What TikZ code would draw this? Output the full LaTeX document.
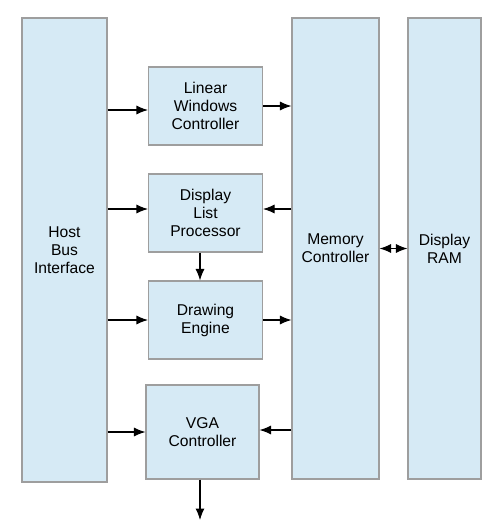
\documentclass[tikz,border=0pt]{standalone}
\usepackage{fontspec}
\setmainfont{Liberation Sans}
\usetikzlibrary{arrows.meta}
\definecolor{blkfill}{HTML}{D6EAF5}
\definecolor{blkline}{HTML}{9E9E9E}
\begin{document}
\begin{tikzpicture}[every node/.style={font=\fontsize{8.9}{10.2}\selectfont},
  blk/.style={draw=blkline,fill=blkfill,line width=0.6pt,align=center,inner sep=0pt},
  >={Latex[length=2.3mm,width=1.8mm]}]
\useasboundingbox (0,0) rectangle (9.78,-10.64);
\node[blk,minimum width=1.70cm,minimum height=9.28cm] (hbi) at (1.29,-5.00) {Host\\Bus\\Interface};
\node[blk,minimum width=2.28cm,minimum height=1.56cm] (lwc) at (4.11,-2.12) {Linear\\Windows\\Controller};
\node[blk,minimum width=2.28cm,minimum height=1.56cm] (dlp) at (4.11,-4.26) {Display\\List\\Processor};
\node[blk,minimum width=2.28cm,minimum height=1.56cm] (de) at (4.11,-6.40) {Drawing\\Engine};
\node[blk,minimum width=2.26cm,minimum height=1.88cm] (vga) at (4.05,-8.64) {VGA\\Controller};
\node[blk,minimum width=1.74cm,minimum height=9.22cm] (mc) at (6.71,-4.97) {Memory\\Controller};
\node[blk,minimum width=1.46cm,minimum height=9.22cm] (ram) at (8.89,-4.97) {Display\\RAM};
\coordinate (out) at (4.00,-10.40);
\draw[->,line width=0.6pt] ([yshift=-0.8mm]hbi.east |- lwc.west) -- ([yshift=-0.8mm]lwc.west);
\draw[->,line width=0.6pt] (lwc.east) -- (lwc.east -| mc.west);
\draw[->,line width=0.6pt] ([yshift=0.8mm]hbi.east |- dlp.west) -- ([yshift=0.8mm]dlp.west);
\draw[->,line width=0.6pt] ([yshift=0.8mm]mc.west |- dlp.east) -- ([yshift=0.8mm]dlp.east);
\draw[->,line width=0.6pt] (dlp.south -| 4.00,0) -- (de.north -| 4.00,0);
\draw[->,line width=0.6pt] (hbi.east |- de.west) -- (de.west);
\draw[->,line width=0.6pt] (de.east) -- (de.east -| mc.west);
\draw[->,line width=0.6pt] (hbi.east |- vga.west) -- (vga.west);
\draw[->,line width=0.6pt] ([yshift=0.4mm]mc.west |- vga.east) -- ([yshift=0.4mm]vga.east);
\draw[<->,line width=0.6pt] (mc.east) -- (ram.west);
\draw[->,line width=0.6pt] (vga.south -| out) -- (out);
\end{tikzpicture}
\end{document}
